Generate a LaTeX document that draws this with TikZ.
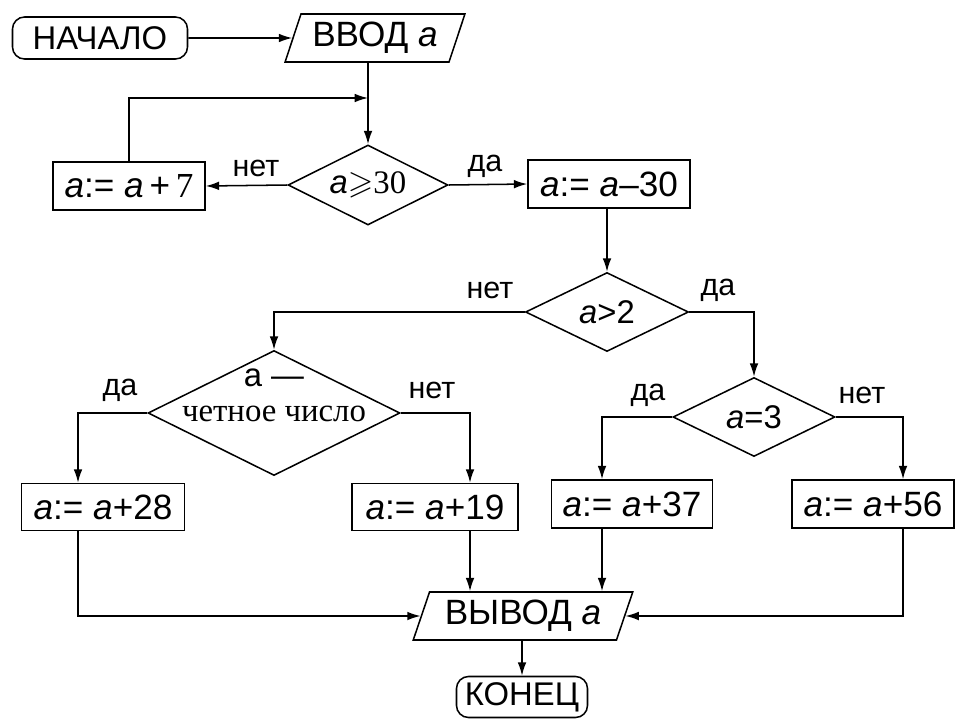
\RequirePackage{fix-cm}
\documentclass[tikz,border=0pt]{standalone}
\usepackage{amssymb}
\usepackage{fontspec}
\setmainfont{Liberation Sans}
\newfontfamily\chetfont{Liberation Serif}
\usetikzlibrary{shapes.geometric,arrows.meta,calc}

\tikzset{
  term/.style={draw, rounded corners=3.6mm, minimum height=12.6mm, line width=1.3pt},
  proc/.style={draw, minimum height=14.4mm, inner sep=2pt, line width=1.3pt,
    font=\fontsize{30}{32}\selectfont},
  io/.style={draw, trapezium, trapezium left angle=70, trapezium right angle=110,
    trapezium stretches=true, minimum height=14.4mm, line width=1.3pt,
    font=\fontsize{30}{32}\selectfont},
  decision/.style={draw, diamond, aspect=2, inner sep=0pt, line width=1.3pt},
  lbl/.style={font=\fontsize{26}{28}\selectfont},
  arr/.style={line width=1.3pt, -{Latex[length=4mm,width=2.6mm]}},
  line/.style={line width=1.3pt}
}

\begin{document}
\begin{tikzpicture}[x=0.3mm,y=-0.3mm,font=\fontsize{28}{32}\selectfont]
\useasboundingbox (0,0) rectangle (957,722);
\fill[white] (0,0) rectangle (957,722);
\node[term,minimum width=52.5mm] (start) at (100,38) {НАЧАЛО};
\node[io,minimum width=54mm] (input) at (375,38) {ВВОД \textit{a}};
\coordinate (join) at (368,98);
\node[decision,minimum width=48mm,minimum height=24mm] (ge) at (368,185) {\textit{a}$\geqslant${\chetfont 30}};
\node[proc,minimum width=45.6mm] (b7) at (129,186) {\textit{a}:= \textit{a}\,+\,{\chetfont 7}};
\node[proc,minimum width=48.6mm] (b30) at (609,184) {\textit{a}:= \textit{a}--30};
\node[decision,minimum width=48.9mm,minimum height=23.7mm] (gt) at (607,312) {\textit{a}>2};
\node[decision,minimum width=75.6mm,minimum height=37.5mm] (even) at (274,413) {};
\node[inner sep=0pt] (evena) at (274,378) {a —};
\node[inner sep=0pt,font=\chetfont\fontsize{28}{30}\selectfont] (eventxt) at (274,414) {четное число};
\node[decision,minimum width=48.6mm,minimum height=23.7mm] (eq) at (754,417) {\textit{a}=3};
\node[proc,minimum width=48.9mm,minimum height=14.1mm] (b28) at (103,507) {\textit{a}:= \textit{a}+28};
\node[proc,minimum width=49.8mm,minimum height=14.1mm] (b19) at (435,507) {\textit{a}:= \textit{a}+19};
\node[proc,minimum width=48.3mm] (b37) at (632,504) {\textit{a}:= \textit{a}+37};
\node[proc,minimum width=48.6mm] (b56) at (873,504) {\textit{a}:= \textit{a}+56};
\node[io,minimum width=66mm] (output) at (523,616) {ВЫВОД \textit{a}};
\node[term,minimum width=39.3mm,minimum height=12.3mm] (stop) at (522,697) {КОНЕЦ};
% labels
\node[lbl] (no1) at (256,168) {нет};
\node[lbl] (yes1) at (485,166) {да};
\node[lbl] (no2) at (490,290) {нет};
\node[lbl] (yes2) at (718,290) {да};
\node[lbl] (yes3) at (120,390) {да};
\node[lbl] (no3) at (432,390) {нет};
\node[lbl] (yes4) at (648,395) {да};
\node[lbl] (no4) at (862,395) {нет};
% columns of the branch lines
\coordinate (c28) at ($(b28.north)+(-25,0)$);
\coordinate (c19) at ($(b19.north)+(35,0)$);
\coordinate (c37) at ($(b37.north)+(-30,0)$);
\coordinate (c56) at ($(b56.north)+(30,0)$);
% connectors
\draw[arr] (start) -- (input.west);
\draw[arr] (input.south -| ge.north) -- (ge.north);
\draw[arr] (b7.north) |- (join);
\draw[arr] (ge.west) -- (b7.east);
\draw[arr] (ge.east) -- (b30.west);
\draw[arr] (b30.south -| gt.north) -- (gt.north);
\draw[arr] (gt.west) -| (even.north);
\draw[arr] (gt.east) -| (eq.north);
\draw[arr] (even.west) -| (c28);
\draw[arr] (even.east) -| (c19);
\draw[arr] (eq.west) -| (c37);
\draw[arr] (eq.east) -| (c56);
\draw[arr] (c28 |- b28.south) |- (output.west);
\draw[arr] (c19 |- b19.south) -- (c19 |- output.north);
\draw[arr] (c37 |- b37.south) -- (c37 |- output.north);
\draw[arr] (c56 |- b56.south) |- (output.east);
\draw[arr] (output.south -| stop.north) -- (stop.north);
\end{tikzpicture}
\end{document}
